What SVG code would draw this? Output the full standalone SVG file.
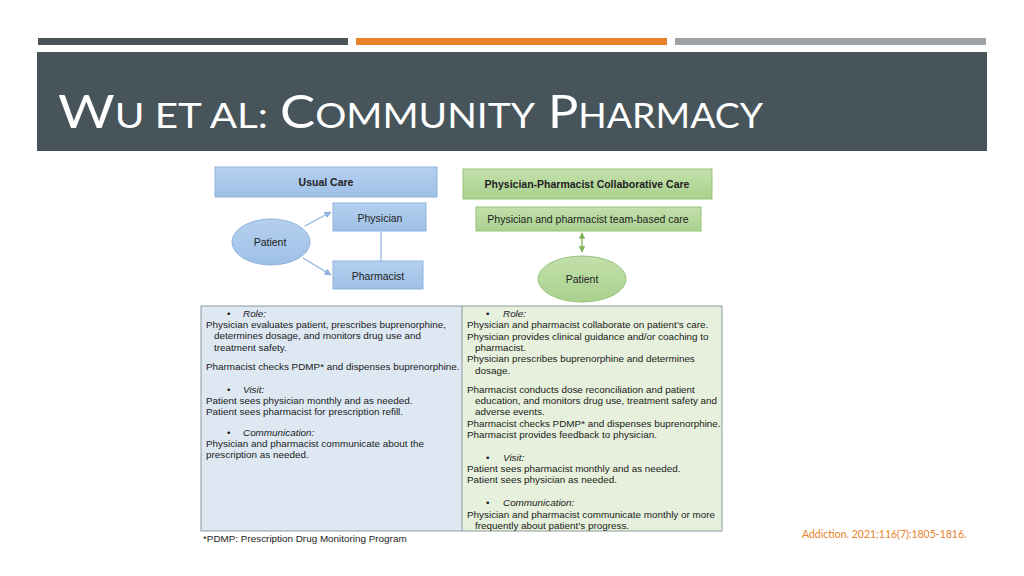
<svg xmlns="http://www.w3.org/2000/svg" width="1024" height="576" viewBox="0 0 1024 576">
<defs>
<linearGradient id="gb" x1="0" y1="0" x2="0" y2="1"><stop offset="0" stop-color="#b5d0ee"/><stop offset="1" stop-color="#9ec0e6"/></linearGradient>
<linearGradient id="gg" x1="0" y1="0" x2="0" y2="1"><stop offset="0" stop-color="#c3e0ac"/><stop offset="1" stop-color="#a9d18e"/></linearGradient>
<marker id="ab" viewBox="0 0 10 10" refX="9" refY="5" markerWidth="6" markerHeight="6" orient="auto"><path d="M0,0 L10,5 L0,10 z" fill="#8fb3df"/></marker>
<marker id="ag" viewBox="0 0 10 10" refX="9" refY="5" markerWidth="5" markerHeight="5" orient="auto-start-reverse"><path d="M0,0 L10,5 L0,10 z" fill="#7fb35a"/></marker>
</defs>
<style>
.t{font-family:"Liberation Sans",Arial,sans-serif;font-size:9.9px;fill:#1a1a1a}
.it{font-style:italic}
.lbl{font-family:"Liberation Sans",Arial,sans-serif;font-size:10.5px;fill:#222;text-anchor:middle}
.b{font-weight:bold}
.bx{fill:url(#gb);stroke:#8fb3df;stroke-width:1}
.gx{fill:url(#gg);stroke:#93c277;stroke-width:1}
.title{font-family:Lato,"Open Sans",sans-serif;fill:#ffffff}
</style>
<rect width="1024" height="576" fill="#ffffff"/>
<g id="topbars">
<rect x="38" y="38" width="310" height="7" fill="#4a5459"/>
<rect x="356" y="38" width="311" height="7" fill="#e8822a"/>
<rect x="675" y="38" width="311" height="7" fill="#9da3a6"/>
</g>
<g id="titleband">
<rect x="37" y="52" width="950" height="99" fill="#47555a"/>
<text class="title" x="58" y="128" textLength="210" lengthAdjust="spacingAndGlyphs"><tspan font-size="46">W</tspan><tspan font-size="34">U ET AL:</tspan></text>
<text class="title" x="280" y="128" textLength="255" lengthAdjust="spacingAndGlyphs"><tspan font-size="46">C</tspan><tspan font-size="34">OMMUNITY</tspan></text>
<text class="title" x="548" y="128" textLength="215" lengthAdjust="spacingAndGlyphs"><tspan font-size="46">P</tspan><tspan font-size="34">HARMACY</tspan></text>
</g>
<g id="connectors">
<line x1="305" y1="226" x2="331" y2="212" stroke="#8fb3df" stroke-width="1.2" marker-end="url(#ab)"/>
<line x1="303" y1="258" x2="331" y2="275" stroke="#8fb3df" stroke-width="1.2" marker-end="url(#ab)"/>
<line x1="381" y1="231" x2="381" y2="261" stroke="#8fb3df" stroke-width="1.2"/>
<line x1="582" y1="233" x2="582" y2="252" stroke="#7fb35a" stroke-width="1.3" marker-start="url(#ag)" marker-end="url(#ag)"/>
</g>
<g id="usual-care">
<rect class="bx" x="215" y="167" width="222" height="30"/>
<text class="lbl b" x="326" y="186">Usual Care</text>
</g>
<g id="physician">
<rect class="bx" x="333" y="203" width="93" height="28"/>
<text class="lbl" x="380" y="221.5">Physician</text>
</g>
<g id="pharmacist">
<rect class="bx" x="333" y="261" width="90" height="28"/>
<text class="lbl" x="378" y="279.5">Pharmacist</text>
</g>
<g id="patient-left">
<ellipse cx="271" cy="242" rx="39" ry="23" fill="url(#gb)" stroke="#8fb3df"/>
<text class="lbl" x="270" y="245.5">Patient</text>
</g>
<g id="collab-care">
<rect class="gx" x="463" y="169" width="249" height="30"/>
<text class="lbl b" x="587" y="188">Physician-Pharmacist Collaborative Care</text>
</g>
<g id="team-care">
<rect class="gx" x="476" y="207" width="225" height="24"/>
<text class="lbl" x="588" y="222.5">Physician and pharmacist team-based care</text>
</g>
<g id="patient-right">
<ellipse cx="582" cy="279" rx="44" ry="23" fill="url(#gg)" stroke="#93c277"/>
<text class="lbl" x="582" y="282.5">Patient</text>
</g>
<g id="table">
<rect x="201" y="306" width="261" height="225" fill="#dde8f3"/>
<rect x="462" y="306" width="260" height="225" fill="#e6f0dc"/>
<rect x="201" y="306" width="521" height="225" fill="none" stroke="#8d9a9e" stroke-width="1"/>
<line x1="462" y1="306" x2="462" y2="531" stroke="#8d9a9e" stroke-width="1"/>
</g>
<g id="left-text">
<text class="t" x="227" y="316.5">•</text><text class="t it" x="243" y="316.5">Role:</text>
<text class="t" x="206" y="327.5">Physician evaluates patient, prescribes buprenorphine,</text>
<text class="t" x="214" y="339">determines dosage, and monitors drug use and</text>
<text class="t" x="214" y="350.5">treatment safety.</text>
<text class="t" x="206" y="369.5">Pharmacist checks PDMP* and dispenses buprenorphine.</text>
<text class="t" x="227" y="392.5">•</text><text class="t it" x="243" y="392.5">Visit:</text>
<text class="t" x="206" y="403.5">Patient sees physician monthly and as needed.</text>
<text class="t" x="206" y="415">Patient sees pharmacist for prescription refill.</text>
<text class="t" x="227" y="435.5">•</text><text class="t it" x="243" y="435.5">Communication:</text>
<text class="t" x="206" y="446.5">Physician and pharmacist communicate about the</text>
<text class="t" x="206" y="458">prescription as needed.</text>
</g>
<g id="right-text">
<text class="t" x="486" y="316.5">•</text><text class="t it" x="503" y="316.5">Role:</text>
<text class="t" x="467" y="328">Physician and pharmacist collaborate on patient’s care.</text>
<text class="t" x="467" y="339.5">Physician provides clinical guidance and/or coaching to</text>
<text class="t" x="475" y="350.5">pharmacist.</text>
<text class="t" x="467" y="362">Physician prescribes buprenorphine and determines</text>
<text class="t" x="475" y="373.5">dosage.</text>
<text class="t" x="467" y="392.5">Pharmacist conducts dose reconciliation and patient</text>
<text class="t" x="475" y="403.5">education, and monitors drug use, treatment safety and</text>
<text class="t" x="475" y="415">adverse events.</text>
<text class="t" x="467" y="426.5">Pharmacist checks PDMP* and dispenses buprenorphine.</text>
<text class="t" x="467" y="437.5">Pharmacist provides feedback to physician.</text>
<text class="t" x="486" y="460.5">•</text><text class="t it" x="503" y="460.5">Visit:</text>
<text class="t" x="467" y="471.5">Patient sees pharmacist monthly and as needed.</text>
<text class="t" x="467" y="483">Patient sees physician as needed.</text>
<text class="t" x="486" y="506">•</text><text class="t it" x="503" y="506">Communication:</text>
<text class="t" x="467" y="517.5">Physician and pharmacist communicate monthly or more</text>
<text class="t" x="475" y="528.5">frequently about patient’s progress.</text>
</g>
<g id="footnote">
<text class="t" x="203" y="541.5">*PDMP: Prescription Drug Monitoring Program</text>
</g>
<g id="citation">
<text x="802" y="537.5" font-family="Lato,'Open Sans',sans-serif" font-size="10.5" fill="#e8822a">Addiction. 2021;116(7):1805-1816.</text>
</g>
</svg>
